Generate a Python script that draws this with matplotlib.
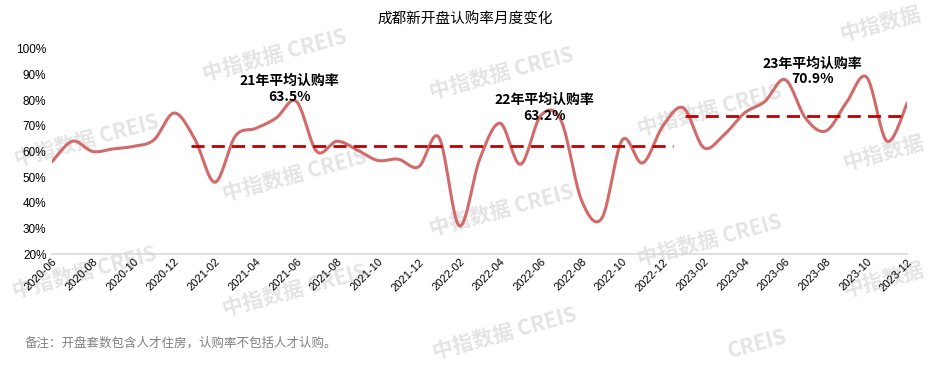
import numpy as np
import matplotlib
matplotlib.use("Agg")
import matplotlib.pyplot as plt

plt.rcParams['font.family'] = ['Liberation Sans', 'Noto Sans CJK SC', 'DejaVu Sans']

# monthly data, 2020-06 .. 2023-12
months = [f"{y}-{m:02d}" for y in (2020, 2021, 2022, 2023) for m in range(1, 13)]
months = months[5:]
rate = [56, 64, 60, 61, 62, 64.5, 75,
        65, 48, 66, 69, 73, 79.5, 60, 64, 60.5, 56.5, 57, 54,
        65.5, 31, 57, 71, 55, 74, 72, 41, 34, 64.5, 55.5, 70,
        77, 61.5, 66.5, 75, 79.5, 88, 73, 68, 79, 89, 64, 79]

avg_labels = ["21年平均认购率\n63.5%", "22年平均认购率\n63.2%", "23年平均认购率\n70.9%"]
avg_levels = [62.3, 62.3, 74.0]          # where the dashed lines sit in the picture
avg_spans = [(6.8, 18.5), (18.5, 30.5), (31.1, 42.5)]

title = "成都新开盘认购率月度变化"
note = "备注：开盘套数包含人才住房，认购率不包括人才认购。"
yticks = [20, 30, 40, 50, 60, 70, 80, 90, 100]


def smooth(x, y, n=20):
    # catmull-rom style bezier, like the smoothed line in excel
    x = np.asarray(x, float); y = np.asarray(y, float)
    px = np.concatenate([[x[0]], x, [x[-1]]])
    py = np.concatenate([[y[0]], y, [y[-1]]])
    t = np.linspace(0, 1, n, endpoint=False)[:, None]
    xs, ys = [], []
    for i in range(1, len(px) - 2):
        p0 = np.array([px[i], py[i]]); p3 = np.array([px[i + 1], py[i + 1]])
        c1 = p0 + (np.array([px[i + 1], py[i + 1]]) - np.array([px[i - 1], py[i - 1]])) / 6
        c2 = p3 - (np.array([px[i + 2], py[i + 2]]) - p0) / 6
        b = (1 - t) ** 3 * p0 + 3 * (1 - t) ** 2 * t * c1 + 3 * (1 - t) * t ** 2 * c2 + t ** 3 * p3
        xs.append(b[:, 0]); ys.append(b[:, 1])
    xs.append([x[-1]]); ys.append([y[-1]])
    return np.concatenate(xs), np.concatenate(ys)


fig = plt.figure(figsize=(9.29, 3.65), dpi=100)
ax = fig.add_axes([0.056, 0.304, 0.9207, 0.562])
ax.set_zorder(2)

# watermarks (pixel positions in the 929x365 picture)
wm = [(87, 140, "中指数据 CREIS"), (275, 55, "中指数据 CREIS"), (295, 175, "中指数据 CREIS"),
      (85, 272, "中指数据 CREIS"), (295, 290, "中指数据 CREIS"), (502, 73, "中指数据 CREIS"),
      (502, 210, "中指数据 CREIS"), (505, 333, "中指数据 CREIS"), (710, 110, "中指数据 CREIS"),
      (710, 240, "中指数据 CREIS"), (757, 344, "CREIS"), (883, 153, "中指数据"),
      (883, 280, "中指数据"), (880, 24, "中指数据")]
for wx, wy, s in wm:
    fig.text(wx / 929, 1 - wy / 365, s, fontsize=15, fontweight='bold',
             color='#e4e4e4', rotation=15, ha='center', va='center', zorder=0,
             family=['Noto Sans CJK SC', 'DejaVu Sans'])

x = np.arange(len(rate))
sx, sy = smooth(x, rate)
ax.plot(sx, sy, color='#d26a6a', lw=2.2, solid_capstyle='round', zorder=3)

for (a, b), lv in zip(avg_spans, avg_levels):
    ax.plot([a, b], [lv, lv], color='#c00000', lw=2, linestyle=(0, (4.7, 2.6)), zorder=4)

txt_pos = [(11.64, 84.4), (24.2, 77.0), (37.35, 91.3)]
for (tx, ty), s in zip(txt_pos, avg_labels):
    ax.text(tx, ty, s, ha='center', va='center', fontsize=10, fontweight='bold',
            linespacing=1.15, family=['Noto Sans CJK SC', 'DejaVu Sans'], zorder=5)

ax.set_xlim(0, len(rate) - 1)
ax.set_ylim(20, 100)
ax.set_yticks(yticks)
ax.set_yticklabels([f"{v}%" for v in yticks], fontsize=8.5)
ax.set_xticks(x[::2])
ax.set_xticklabels(months[::2], rotation=45, ha='right', va='top',
                   rotation_mode='anchor', fontsize=8)
ax.tick_params(length=0, pad=4)
ax.tick_params(axis='x', pad=2)
for s in ['top', 'right', 'left']:
    ax.spines[s].set_visible(False)
ax.spines['bottom'].set_color('#d9d9d9')
ax.spines['bottom'].set_linewidth(1.2)
ax.patch.set_alpha(0)

fig.text(465 / 929, 1 - 20 / 365, title, ha='center', va='center', fontsize=10.5,
         family=['Noto Sans CJK SC', 'DejaVu Sans'])
fig.text(25 / 929, 1 - 343 / 365, note, ha='left', va='center', fontsize=9,
         color='#808080', family=['Noto Sans CJK SC', 'DejaVu Sans'])

fig.savefig("out.png", dpi=100)
